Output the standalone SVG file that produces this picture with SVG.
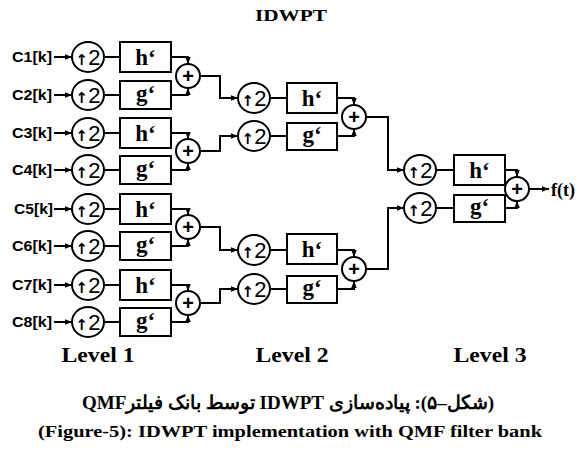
<svg xmlns="http://www.w3.org/2000/svg" width="581" height="453" viewBox="0 0 581 453">
<defs>
<marker id="ah" viewBox="0 0 10 10" refX="10" refY="5" markerWidth="7" markerHeight="7" orient="auto" markerUnits="userSpaceOnUse">
<path d="M0,1 L10,5 L0,9 Z" fill="#000"/>
</marker>
<style>
.bg{fill:#fff}
.ln{fill:none;stroke:#000;stroke-width:2}
.ar{fill:none;stroke:#000;stroke-width:2;marker-end:url(#ah)}
.up ellipse,.sum circle,.flt rect{fill:#fff;stroke:#000;stroke-width:2}
.lbl{font-family:"Liberation Sans",Arial,sans-serif;font-weight:bold;font-size:15px;fill:#000}
.two{font-family:"Liberation Sans",Arial,sans-serif;font-size:22px;fill:#000;text-anchor:middle}
.arr{font-family:"DejaVu Sans",sans-serif;font-weight:bold;font-size:15px}
.ft{font-family:"Liberation Serif","Times New Roman",serif;font-weight:bold;font-size:23px;fill:#000;text-anchor:middle}
.pl{font-family:"Liberation Sans",Arial,sans-serif;font-weight:bold;font-size:20px;fill:#000;text-anchor:middle}
.ser{font-family:"Liberation Serif","Times New Roman",serif;font-weight:bold;fill:#000}
</style>
</defs>
<rect class="bg" x="0" y="0" width="581" height="453"/>

<g id="title"><text class="ser" x="291" y="21" font-size="16" text-anchor="middle" textLength="72" lengthAdjust="spacingAndGlyphs">IDWPT</text></g>

<g id="connectors">
<path class="ar" d="M54,57 H72"/><path class="ar" d="M54,95 H72"/><path class="ar" d="M54,133 H72"/><path class="ar" d="M54,170 H72"/>
<path class="ar" d="M54,209 H72"/><path class="ar" d="M54,246 H72"/><path class="ar" d="M54,285 H72"/><path class="ar" d="M54,322 H72"/>
<path class="ln" d="M104,57 H120 M104,95 H120 M104,133 H120 M104,170 H120 M104,209 H120 M104,246 H120 M104,285 H120 M104,322 H120"/>
<path class="ar" d="M171,57 H188 V64"/><path class="ar" d="M171,95 H188 V88"/>
<path class="ar" d="M171,133 H188 V139"/><path class="ar" d="M171,170 H188 V163"/>
<path class="ar" d="M171,209 H188 V215"/><path class="ar" d="M171,246 H188 V239"/>
<path class="ar" d="M171,285 H188 V291"/><path class="ar" d="M171,322 H188 V315"/>
<path class="ar" d="M200,76 H220 V98 H238"/><path class="ar" d="M200,151 H220 V136 H238"/>
<path class="ar" d="M200,227 H220 V250 H238"/><path class="ar" d="M200,303 H220 V289 H238"/>
<path class="ln" d="M270,98 H287 M270,136 H287 M270,250 H287 M270,289 H287"/>
<path class="ar" d="M337,98 H354 V105"/><path class="ar" d="M337,136 H354 V129"/>
<path class="ar" d="M337,250 H354 V257"/><path class="ar" d="M337,289 H354 V281"/>
<path class="ar" d="M366,117 H388 V170 H404"/><path class="ar" d="M366,269 H388 V208 H404"/>
<path class="ln" d="M436,170 H454 M436,208 H454"/>
<path class="ar" d="M505,170 H517 V177"/><path class="ar" d="M505,208 H517 V201"/>
<path class="ar" d="M529,189 H549"/>
</g>

<g id="inputs">
<text class="lbl" x="12" y="62" textLength="40" lengthAdjust="spacingAndGlyphs">C1[k]</text>
<text class="lbl" x="12" y="100" textLength="40" lengthAdjust="spacingAndGlyphs">C2[k]</text>
<text class="lbl" x="12" y="138" textLength="40" lengthAdjust="spacingAndGlyphs">C3[k]</text>
<text class="lbl" x="12" y="175" textLength="40" lengthAdjust="spacingAndGlyphs">C4[k]</text>
<text class="lbl" x="14" y="214" textLength="39" lengthAdjust="spacingAndGlyphs">C5[k]</text>
<text class="lbl" x="12" y="251" textLength="40" lengthAdjust="spacingAndGlyphs">C6[k]</text>
<text class="lbl" x="12" y="290" textLength="40" lengthAdjust="spacingAndGlyphs">C7[k]</text>
<text class="lbl" x="12" y="327" textLength="40" lengthAdjust="spacingAndGlyphs">C8[k]</text>
</g>

<g id="up-l1-1" class="up"><ellipse cx="88" cy="57" rx="16" ry="15"/><text class="two" x="88" y="65"><tspan class="arr">↑</tspan>2</text></g>
<g id="up-l1-2" class="up"><ellipse cx="88" cy="95" rx="16" ry="15"/><text class="two" x="88" y="103"><tspan class="arr">↑</tspan>2</text></g>
<g id="up-l1-3" class="up"><ellipse cx="88" cy="133" rx="16" ry="15"/><text class="two" x="88" y="141"><tspan class="arr">↑</tspan>2</text></g>
<g id="up-l1-4" class="up"><ellipse cx="88" cy="170" rx="16" ry="15"/><text class="two" x="88" y="178"><tspan class="arr">↑</tspan>2</text></g>
<g id="up-l1-5" class="up"><ellipse cx="88" cy="209" rx="16" ry="15"/><text class="two" x="88" y="217"><tspan class="arr">↑</tspan>2</text></g>
<g id="up-l1-6" class="up"><ellipse cx="88" cy="246" rx="16" ry="15"/><text class="two" x="88" y="254"><tspan class="arr">↑</tspan>2</text></g>
<g id="up-l1-7" class="up"><ellipse cx="88" cy="285" rx="16" ry="15"/><text class="two" x="88" y="293"><tspan class="arr">↑</tspan>2</text></g>
<g id="up-l1-8" class="up"><ellipse cx="88" cy="322" rx="16" ry="15"/><text class="two" x="88" y="330"><tspan class="arr">↑</tspan>2</text></g>

<g id="f-l1-1" class="flt"><rect x="120" y="42" width="51" height="30"/><text class="ft" x="145.5" y="65">h‘</text></g>
<g id="f-l1-2" class="flt"><rect x="120" y="81" width="51" height="28"/><text class="ft" x="145.5" y="101">g‘</text></g>
<g id="f-l1-3" class="flt"><rect x="120" y="118" width="51" height="30"/><text class="ft" x="145.5" y="141">h‘</text></g>
<g id="f-l1-4" class="flt"><rect x="120" y="156" width="51" height="28"/><text class="ft" x="145.5" y="176">g‘</text></g>
<g id="f-l1-5" class="flt"><rect x="120" y="194" width="51" height="30"/><text class="ft" x="145.5" y="217">h‘</text></g>
<g id="f-l1-6" class="flt"><rect x="120" y="232" width="51" height="28"/><text class="ft" x="145.5" y="252">g‘</text></g>
<g id="f-l1-7" class="flt"><rect x="120" y="270" width="51" height="30"/><text class="ft" x="145.5" y="293">h‘</text></g>
<g id="f-l1-8" class="flt"><rect x="120" y="308" width="51" height="28"/><text class="ft" x="145.5" y="328">g‘</text></g>

<g id="s-l1-1" class="sum"><circle cx="188" cy="76" r="12"/><text class="pl" x="188" y="83">+</text></g>
<g id="s-l1-2" class="sum"><circle cx="188" cy="151" r="12"/><text class="pl" x="188" y="158">+</text></g>
<g id="s-l1-3" class="sum"><circle cx="188" cy="227" r="12"/><text class="pl" x="188" y="234">+</text></g>
<g id="s-l1-4" class="sum"><circle cx="188" cy="303" r="12"/><text class="pl" x="188" y="310">+</text></g>

<g id="up-l2-1" class="up"><ellipse cx="254" cy="98" rx="16" ry="15"/><text class="two" x="254" y="106"><tspan class="arr">↑</tspan>2</text></g>
<g id="up-l2-2" class="up"><ellipse cx="254" cy="136" rx="16" ry="15"/><text class="two" x="254" y="144"><tspan class="arr">↑</tspan>2</text></g>
<g id="up-l2-3" class="up"><ellipse cx="254" cy="250" rx="16" ry="15"/><text class="two" x="254" y="258"><tspan class="arr">↑</tspan>2</text></g>
<g id="up-l2-4" class="up"><ellipse cx="254" cy="289" rx="16" ry="15"/><text class="two" x="254" y="297"><tspan class="arr">↑</tspan>2</text></g>

<g id="f-l2-1" class="flt"><rect x="287" y="83" width="50" height="30"/><text class="ft" x="312" y="106">h‘</text></g>
<g id="f-l2-2" class="flt"><rect x="287" y="123" width="50" height="27"/><text class="ft" x="312" y="142">g‘</text></g>
<g id="f-l2-3" class="flt"><rect x="287" y="234" width="50" height="30"/><text class="ft" x="312" y="257">h‘</text></g>
<g id="f-l2-4" class="flt"><rect x="287" y="276" width="50" height="27"/><text class="ft" x="312" y="295">g‘</text></g>

<g id="s-l2-1" class="sum"><circle cx="354" cy="117" r="12"/><text class="pl" x="354" y="124">+</text></g>
<g id="s-l2-2" class="sum"><circle cx="354" cy="269" r="12"/><text class="pl" x="354" y="276">+</text></g>

<g id="up-l3-1" class="up"><ellipse cx="420" cy="170" rx="16" ry="15"/><text class="two" x="420" y="178"><tspan class="arr">↑</tspan>2</text></g>
<g id="up-l3-2" class="up"><ellipse cx="420" cy="208" rx="16" ry="15"/><text class="two" x="420" y="216"><tspan class="arr">↑</tspan>2</text></g>

<g id="f-l3-1" class="flt"><rect x="454" y="155" width="51" height="30"/><text class="ft" x="479.5" y="178">h‘</text></g>
<g id="f-l3-2" class="flt"><rect x="454" y="195" width="51" height="27"/><text class="ft" x="479.5" y="214">g‘</text></g>

<g id="s-l3" class="sum"><circle cx="517" cy="189" r="12"/><text class="pl" x="517" y="196">+</text></g>

<g id="out"><text class="ser" x="551" y="196" font-size="18">f(t)</text></g>

<g id="levels">
<text class="ser" x="98" y="362" font-size="20" text-anchor="middle" textLength="73" lengthAdjust="spacingAndGlyphs">Level 1</text>
<text class="ser" x="292" y="362" font-size="20" text-anchor="middle" textLength="73" lengthAdjust="spacingAndGlyphs">Level 2</text>
<text class="ser" x="490" y="362" font-size="20" text-anchor="middle" textLength="73" lengthAdjust="spacingAndGlyphs">Level 3</text>
</g>

<g id="caption">
<text class="ser" x="288" y="409" font-size="19" text-anchor="middle" direction="rtl" font-family="'Liberation Serif','DejaVu Sans',serif">(شکل–۵): پیاده‌سازی IDWPT توسط بانک فیلترQMF</text>
<text class="ser" x="290" y="437" font-size="16" text-anchor="middle" textLength="504" lengthAdjust="spacingAndGlyphs">(Figure-5): IDWPT implementation with QMF filter bank</text>
</g>
</svg>
